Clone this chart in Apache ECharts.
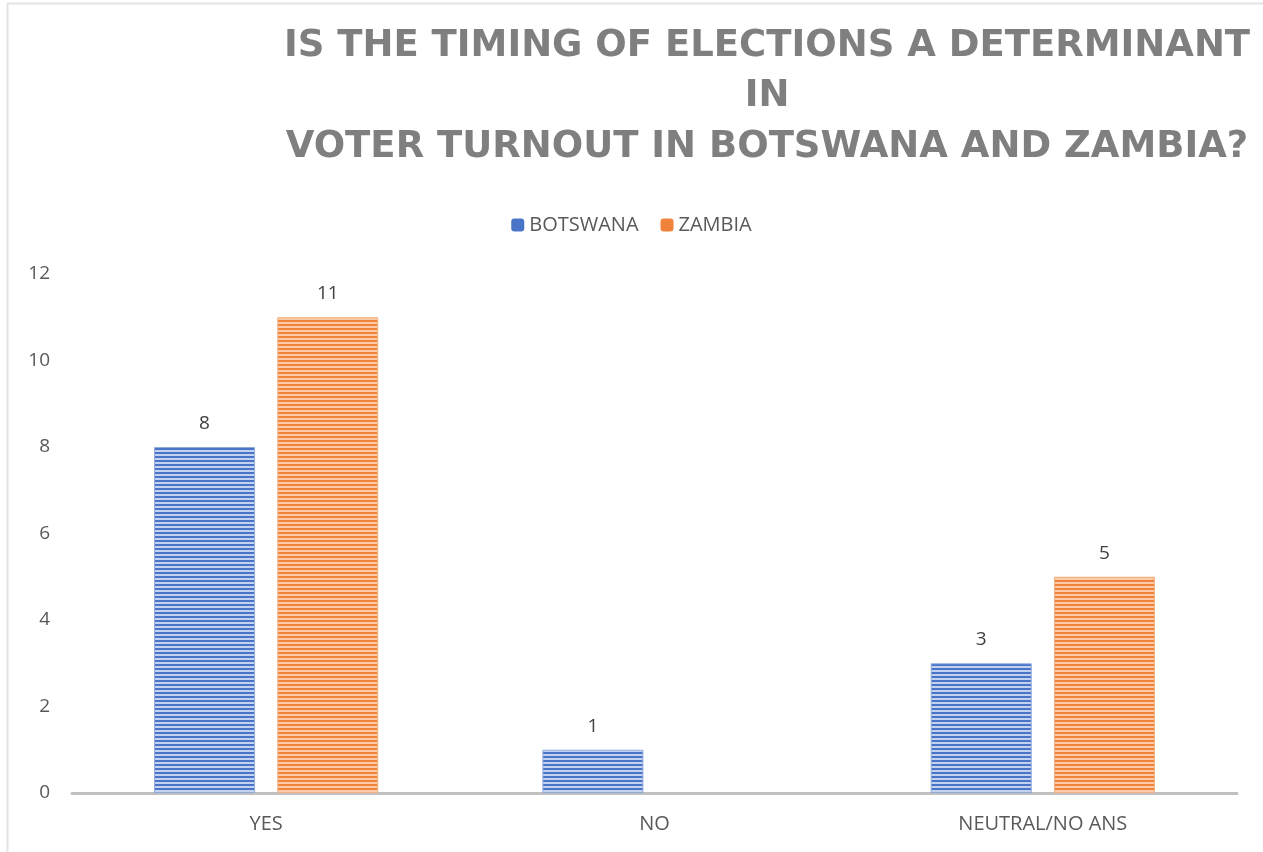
<!DOCTYPE html>
<html>
<head>
<meta charset="utf-8">
<style>
  html, body { margin: 0; padding: 0; background: #ffffff; }
  #chart { width: 1263px; height: 852px; }
</style>
<script src="https://cdn.jsdelivr.net/npm/echarts@6/dist/echarts.min.js"></script>
</head>
<body>
<div id="chart"></div>
<script>
// Survey answers per country
const categories = ['YES', 'NO', 'NEUTRAL/NO ANS'];
const botswana = [8, 1, 3];
const zambia = [11, null, 5];
const yTicks = { min: 0, max: 12, interval: 2 };

// Horizontal-stripe fill used by the bars
function stripes(dark, light) {
  const c = document.createElement('canvas');
  c.width = 8; c.height = 4;
  const g = c.getContext('2d');
  g.fillStyle = light; g.fillRect(0, 0, 8, 4);
  g.fillStyle = dark; g.fillRect(0, 0, 8, 2);
  return { image: c, repeat: 'repeat' };
}
const blueFill = stripes('#4a74c8', '#c3d3ef');
const orangeFill = stripes('#f0823a', '#f9cba8');

const chart = echarts.init(document.getElementById('chart'), null, { renderer: 'canvas' });

const labelStyle = {
  show: true, position: 'top', distance: 14,
  color: '#404040', fontSize: 19, fontFamily: 'Open Sans'
};

chart.setOption({
  animation: false,
  backgroundColor: '#ffffff',
  graphic: [{
    type: 'rect', shape: { x: 7.5, y: 3.5, width: 1400, height: 1000 },
    style: { fill: 'none', stroke: '#e3e3e3', lineWidth: 2 }, silent: true, z: -1
  }],
  title: {
    text: 'IS THE TIMING OF ELECTIONS A DETERMINANT\nIN\nVOTER TURNOUT IN BOTSWANA AND ZAMBIA?',
    left: 762, top: 16, textAlign: 'center',
    textStyle: {
      color: '#7f7f7f', fontSize: 37, fontWeight: 'bold',
      fontFamily: 'DejaVu Sans', lineHeight: 50.5
    }
  },
  legend: {
    top: 210, left: 'center', itemWidth: 13, itemHeight: 13, itemGap: 22,
    textStyle: { color: '#595959', fontSize: 20, fontFamily: 'Open Sans' },
    data: [
      { name: 'BOTSWANA', itemStyle: { color: '#4a74c8', borderWidth: 0 } },
      { name: 'ZAMBIA', itemStyle: { color: '#f0823a', borderWidth: 0 } }
    ]
  },
  grid: { left: 72, right: 26, top: 274, bottom: 59, containLabel: false },
  xAxis: {
    type: 'category', data: categories,
    axisLine: { lineStyle: { color: '#c0c0c0', width: 3 } },
    axisTick: { show: false },
    axisLabel: { color: '#595959', fontSize: 20, fontFamily: 'Open Sans', margin: 21 }
  },
  yAxis: {
    type: 'value', min: yTicks.min, max: yTicks.max, interval: yTicks.interval,
    splitLine: { show: false },
    axisLine: { show: false }, axisTick: { show: false },
    axisLabel: { color: '#595959', fontSize: 19, fontFamily: 'Open Sans', margin: 22 }
  },
  series: [
    {
      name: 'BOTSWANA', type: 'bar', data: botswana,
      barWidth: 101, barGap: '22%',
      itemStyle: { color: blueFill, borderColor: '#8eaadc', borderWidth: 1 },
      label: labelStyle
    },
    {
      name: 'ZAMBIA', type: 'bar', data: zambia,
      barWidth: 101,
      itemStyle: { color: orangeFill, borderColor: '#f6b17f', borderWidth: 1 },
      label: labelStyle
    }
  ]
});
</script>
</body>
</html>
